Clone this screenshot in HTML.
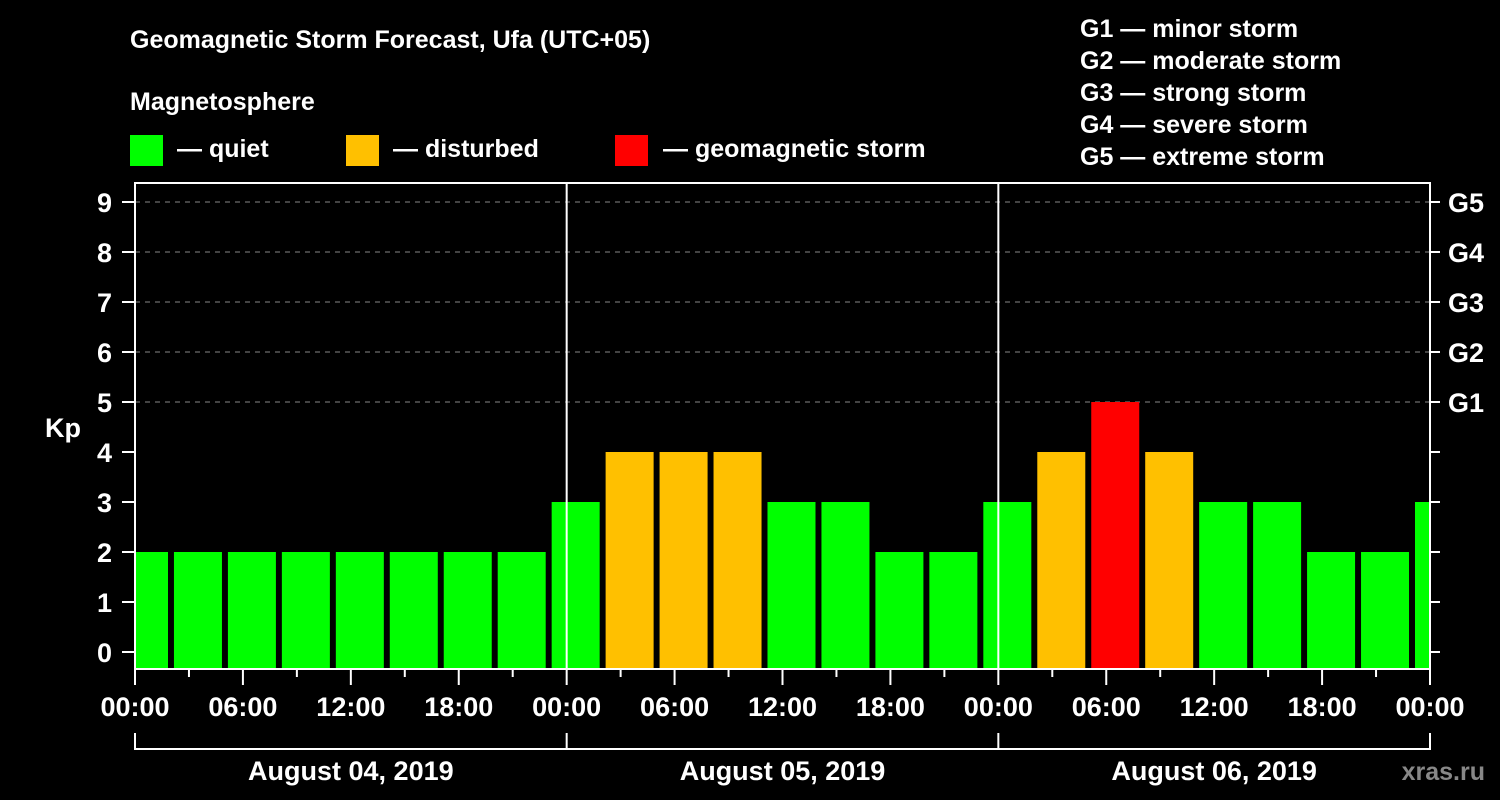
<!DOCTYPE html>
<html><head><meta charset="utf-8"><style>
body{margin:0;background:#000;}
svg{display:block;font-family:"Liberation Sans",sans-serif;font-weight:bold;}
</style></head><body>
<svg id="chart" width="1500" height="800" viewBox="0 0 1500 800">
<rect width="1500" height="800" fill="#000"/>
<text x="130" y="48" fill="#fff" font-size="25">Geomagnetic Storm Forecast, Ufa (UTC+05)</text>
<text x="130" y="110" fill="#fff" font-size="25">Magnetosphere</text>
<g><rect x="130" y="135" width="33" height="31" fill="#00ff00"/><text x="177" y="157" fill="#fff" font-size="25">— quiet</text></g>
<g><rect x="346" y="135" width="33" height="31" fill="#ffc000"/><text x="393" y="157" fill="#fff" font-size="25">— disturbed</text></g>
<g><rect x="615" y="135" width="33" height="31" fill="#ff0000"/><text x="663" y="157" fill="#fff" font-size="25">— geomagnetic storm</text></g>
<g fill="#fff" font-size="25">
<text x="1080" y="37">G1 — minor storm</text>
<text x="1080" y="69">G2 — moderate storm</text>
<text x="1080" y="101">G3 — strong storm</text>
<text x="1080" y="133">G4 — severe storm</text>
<text x="1080" y="165">G5 — extreme storm</text>
</g>
<g id="grid"></g>
<g id="bars"></g>
<g id="axes"></g>
<text x="63" y="437" fill="#fff" font-size="27" text-anchor="middle">Kp</text>
<text x="1485" y="780" fill="#888" font-size="25" text-anchor="end">xras.ru</text>
</svg>
<script>
const kpValues=[2,2,2,2,2,2,2,2,3,4,4,4,3,3,2,2,3,4,5,4,3,3,2,2,3];
const yTicks=[0,1,2,3,4,5,6,7,8,9];
const gLabels=["G1","G2","G3","G4","G5"];
const gLevels=[5,6,7,8,9];
const xLabels=["00:00","06:00","12:00","18:00","00:00","06:00","12:00","18:00","00:00","06:00","12:00","18:00","00:00"];
const dayLabels=["August 04, 2019","August 05, 2019","August 06, 2019"];
const NS="http://www.w3.org/2000/svg";
const L=135,R=1430,T=183,B=669;
const hourPx=(R-L)/72;
const xH=h=>L+h*hourPx;
const yK=k=>652-k*50;
function mk(p,tag,at){const e=document.createElementNS(NS,tag);for(const k in at)e.setAttribute(k,at[k]);p.appendChild(e);return e;}
const grid=document.getElementById('grid'),bars=document.getElementById('bars'),axes=document.getElementById('axes');
gLevels.forEach(k=>{const l=mk(grid,'line',{x1:L,x2:R,y1:yK(k),y2:yK(k),stroke:'#888','stroke-dasharray':'5,5','stroke-width':1});

});
kpValues.forEach((v,i)=>{const c=xH(i*3+0.5);let x0=Math.max(L+1,c-24),x1=Math.min(R-1,c+24);
const col=v>=5?'#ff0000':(v>=4?'#ffc000':'#00ff00');
const r=mk(bars,'rect',{x:x0,y:yK(v),width:x1-x0,height:B-yK(v),fill:col});

});
// frame
const f=mk(axes,'rect',{x:L,y:T,width:R-L,height:B-T,fill:'none',stroke:'#fff','stroke-width':2});


[24,48].forEach(h=>{const l=mk(axes,'line',{x1:xH(h),x2:xH(h),y1:T,y2:B,stroke:'#fff','stroke-width':2});

});
yTicks.forEach(k=>{const y=yK(k);
mk(axes,'line',{x1:L-13,x2:L,y1:y,y2:y,stroke:'#fff','stroke-width':2});
mk(axes,'line',{x1:R,x2:R+10,y1:y,y2:y,stroke:'#fff','stroke-width':2});
const t=mk(axes,'text',{x:L-23,y:y+10,fill:'#fff','font-size':27,'text-anchor':'end'});t.textContent=k;

});
gLabels.forEach((g,i)=>{const t=mk(axes,'text',{x:R+18,y:yK(gLevels[i])+10,fill:'#fff','font-size':27});t.textContent=g;

});
for(let h=0;h<=72;h+=3){const x=xH(h);mk(axes,'line',{x1:x,x2:x,y1:B,y2:B+(h%6==0?16:8),stroke:'#fff','stroke-width':2});}
xLabels.forEach((s,i)=>{const t=mk(axes,'text',{x:xH(i*6),y:716,fill:'#fff','font-size':27,'text-anchor':'middle'});t.textContent=s;

});
mk(axes,'line',{x1:L,x2:R,y1:749,y2:749,stroke:'#fff','stroke-width':2});
[0,24,48,72].forEach(h=>mk(axes,'line',{x1:xH(h),x2:xH(h),y1:733,y2:750,stroke:'#fff','stroke-width':2}));
dayLabels.forEach((s,i)=>{const t=mk(axes,'text',{x:xH(i*24+12),y:780,fill:'#fff','font-size':27,'text-anchor':'middle'});t.textContent=s;

});
</script>
</body></html>
